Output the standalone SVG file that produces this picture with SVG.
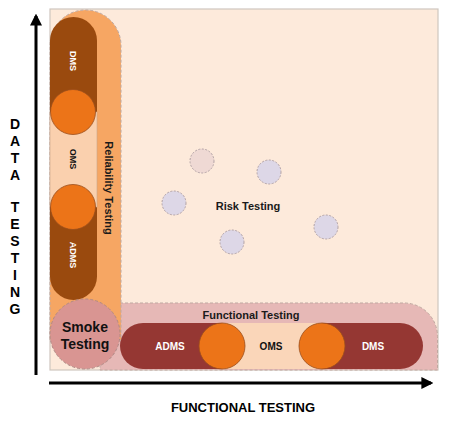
<svg xmlns="http://www.w3.org/2000/svg" width="450" height="421" viewBox="0 0 450 421">
<defs>
<style>
.b{font-family:"Liberation Sans",Arial,sans-serif;font-weight:bold}
.ax{font-size:14px;fill:#000;text-anchor:middle}
.lbl{font-size:11px;fill:#1a1a1a;text-anchor:middle}
.w{font-size:10px;fill:#fff;text-anchor:middle}
.k{font-size:10px;fill:#111;text-anchor:middle}
.oc{fill:#EC7418;stroke:#9A4E1C;stroke-width:0.8}
.rc{fill:#DDD7E7;stroke:#B3A3A6;stroke-width:1;stroke-dasharray:2 1.5}
.dash{stroke:#BFA8A0;stroke-width:1;stroke-dasharray:3 2}
</style>
<marker id="ah" viewBox="0 0 10 10" refX="8" refY="5" markerWidth="4" markerHeight="4" orient="auto" markerUnits="strokeWidth">
<path d="M0,0 L10,5 L0,10 z" fill="#000"/>
</marker>
</defs>

<g id="background">
<rect x="50" y="9" width="388" height="361" fill="#FDEADB" stroke="#CFC6BE" stroke-width="1.2"/>
</g>

<g id="risk-testing">
<circle cx="202" cy="161" r="12" fill="#EFD9D4" stroke="#B3A3A6" stroke-width="1" stroke-dasharray="2 1.5"/>
<circle class="rc" cx="269" cy="172" r="12"/>
<circle class="rc" cx="174" cy="203" r="12"/>
<circle class="rc" cx="232" cy="242" r="12"/>
<circle class="rc" cx="326" cy="227" r="12"/>
<text class="b lbl" x="248" y="210">Risk Testing</text>
</g>

<g id="functional-testing">
<path class="dash" d="M100,303 H404 A33.5,33.5 0 0 1 437.5,336.5 V370 H100 Z" fill="#E6B8B6"/>
<text class="b lbl" x="251" y="319">Functional Testing</text>
<rect x="120" y="323" width="303" height="46" rx="23" fill="#953733"/>
<rect x="222" y="323" width="100" height="46" fill="#FAD6B9"/>
<circle class="oc" cx="222" cy="346" r="23"/>
<circle class="oc" cx="322" cy="346" r="23"/>
<text class="b w" x="170" y="350">ADMS</text>
<text class="b k" x="271" y="350">OMS</text>
<text class="b w" x="373" y="350">DMS</text>
</g>

<g id="reliability-testing">
<path class="dash" d="M50,340 V45.5 A35.5,35.5 0 0 1 121,45.5 V340 Z" fill="#F6A663"/>
<text class="b lbl" transform="translate(105,188) rotate(90)">Reliability Testing</text>
<rect x="50" y="17" width="47" height="283" rx="23.5" fill="#9A4A0E"/>
<rect x="50" y="112" width="47" height="95" fill="#FAD0AE" stroke="#C9A58A" stroke-width="0.6"/>
<circle class="oc" cx="73" cy="112" r="22.5"/>
<circle class="oc" cx="73" cy="207" r="22.5"/>
<text class="b w" style="font-size:9px" transform="translate(70,61) rotate(90)">DMS</text>
<text class="b k" style="font-size:9px" transform="translate(70,159) rotate(90)">OMS</text>
<text class="b w" style="font-size:9px" transform="translate(70,255) rotate(90)">ADMS</text>
</g>

<g id="smoke-testing">
<circle cx="85" cy="334" r="35" fill="#D99592" stroke="#B08A86" stroke-width="1" stroke-dasharray="3 2"/>
<text class="b" style="font-size:14px;fill:#111;text-anchor:middle" x="85" y="332">Smoke</text>
<text class="b" style="font-size:14px;fill:#111;text-anchor:middle" x="85" y="349">Testing</text>
</g>

<g id="connectors">
<line x1="36" y1="375" x2="36" y2="16" stroke="#000" stroke-width="3" marker-end="url(#ah)"/>
<line x1="49" y1="383" x2="431" y2="383" stroke="#000" stroke-width="3" marker-end="url(#ah)"/>
</g>

<g id="axis-labels">
<text class="b ax" x="15" y="129">D</text>
<text class="b ax" x="15" y="146">A</text>
<text class="b ax" x="15" y="163">T</text>
<text class="b ax" x="15" y="180">A</text>
<text class="b ax" x="15" y="212">T</text>
<text class="b ax" x="15" y="229">E</text>
<text class="b ax" x="15" y="246">S</text>
<text class="b ax" x="15" y="263">T</text>
<text class="b ax" x="15" y="280">I</text>
<text class="b ax" x="15" y="297">N</text>
<text class="b ax" x="15" y="314">G</text>
<text class="b" style="font-size:13px;fill:#000;text-anchor:middle" x="243" y="412">FUNCTIONAL TESTING</text>
</g>
</svg>
